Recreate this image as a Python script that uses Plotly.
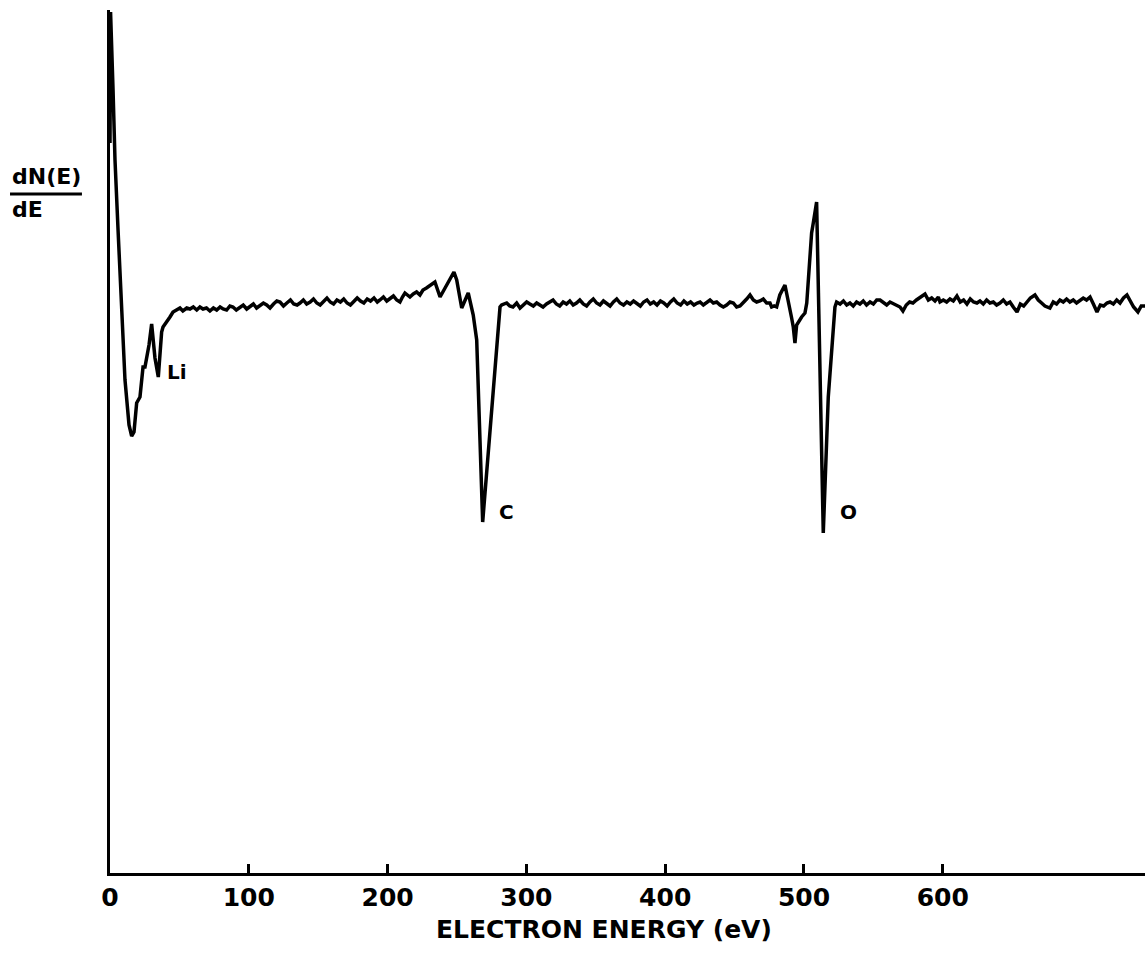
import plotly.graph_objects as go

# Electron energy (eV) and dN(E)/dE (arbitrary units, axis = 0)
energy = [
    0.0, 0.4, 2.2, 3.6, 5.8, 7.9, 10.8, 13.7, 15.6, 17.3, 19.2, 21.6, 23.8, 25.2, 28.1, 30.0,
    32.4, 34.8, 37.2, 38.2, 40.9, 43.2,
    45.4, 47.5, 50.4, 52.5, 55.3, 57.6, 60.0, 62.5, 64.8, 67.0, 69.5, 72.0, 74.5, 76.9, 79.3,
    81.5, 84.0, 86.4, 88.6, 91.0, 93.5, 96.0, 98.5, 100.9, 103.3, 105.6, 108.0, 110.5, 112.9,
    115.3, 117.8, 120.2, 122.5, 125.0, 127.4, 130.0, 132.4, 134.8, 136.9, 139.3, 141.7, 144.2,
    146.6, 149.0, 151.4, 153.8, 156.3, 158.7, 161.1, 163.5, 166.0, 168.4, 170.8, 173.2, 175.6,
    178.1, 180.5, 182.9, 185.3, 187.7, 190.2, 192.6, 194.5, 197.0, 199.4, 201.8, 204.2, 206.6,
    208.9, 210.7, 212.5, 214.3, 216.1, 218.5, 220.9, 223.3, 225.5, 228.0, 230.6, 234.1, 237.8,
    247.8, 249.8, 253.4, 258.1, 261.7, 264.2, 268.5, 281.0, 282.2,
    285.8, 288.0, 290.3, 293.0, 295.4, 297.8, 300.2, 302.5, 305.0, 307.4, 309.7, 312.0, 314.5,
    316.9, 319.2, 321.6, 324.0, 326.5, 328.9, 331.3, 333.7, 336.1, 338.5, 341.0, 343.4, 345.8,
    348.2, 350.6, 353.0, 355.5, 357.9, 360.3, 362.7, 365.1, 367.5, 370.0, 372.4, 374.8, 377.2,
    379.6, 382.1, 384.5, 386.9, 389.3, 391.7, 394.1, 396.6, 399.0, 401.4, 403.8, 406.2, 408.6,
    411.1, 413.5, 415.9, 418.3, 420.7, 423.1, 425.1, 427.5, 429.9, 432.3, 434.7, 437.1, 439.5,
    441.9, 444.3, 446.7, 449.1, 451.5, 453.9, 456.3, 458.7, 461.1, 463.5, 465.9, 468.3, 470.7,
    473.1, 475.5, 476.7, 478.5, 480.3, 482.6, 486.3, 491.1, 492.3, 493.5, 494.7, 498.3, 500.7,
    502.0, 503.1, 504.3, 505.5, 506.7, 509.1, 513.9, 515.9, 517.5, 522.3, 523.5,
    526.0, 528.4, 530.8, 533.1, 535.5, 537.9, 540.3, 542.7, 545.1, 547.6, 550.0, 552.4, 554.8,
    557.2, 559.6, 562.0, 564.4, 566.8, 569.2, 571.3, 573.7, 576.1, 578.5, 581.0, 583.4, 585.8,
    587.2, 589.6, 592.0, 594.4, 596.8, 598.0, 600.4, 602.8, 605.2, 607.6, 610.2, 612.6, 615.0,
    617.4, 619.8, 622.2, 624.6, 626.8, 629.2, 631.6, 634.0, 636.4, 638.8, 641.2, 643.6, 646.0,
    648.4, 650.8, 653.5, 655.9, 658.3, 660.7, 663.1, 666.4, 668.8, 671.2, 673.6, 677.2, 679.6,
    682.0, 684.4, 686.8, 689.2, 691.6, 694.0, 696.4, 698.8, 701.2, 703.6, 706.1, 708.5, 711.1,
    713.5, 715.9, 718.3, 720.5, 722.9, 725.3, 727.7, 730.2, 732.7, 735.1, 737.5, 740.6, 743.0,
    745.7,
]
signal = [
    730, 861, 783, 713, 643, 573, 493, 448, 437, 441, 470, 476, 506, 506, 528, 549,
    515, 496, 541, 546, 551, 556,
    561, 563, 565, 562, 565, 564, 566, 563, 566, 564, 565, 562, 565, 563, 566,
    564, 563, 567, 566, 563, 565, 568, 564, 566, 569, 565, 567, 570, 568,
    565, 569, 572, 571, 567, 570, 573, 569, 568, 570, 573, 569, 571,
    574, 570, 568, 572, 575, 571, 569, 573, 571, 574, 570, 568, 572,
    575, 572, 570, 574, 572, 575, 571, 573, 576, 572, 574, 577, 573,
    571, 576, 580, 578, 576, 579, 581, 578, 583, 585, 588, 591, 576,
    601, 593, 565, 580, 558, 533, 351, 566, 568,
    570, 567, 566, 570, 565, 568, 571, 569, 567, 570, 568, 566, 569,
    571, 573, 569, 567, 571, 569, 572, 568, 570, 573, 569, 567, 571,
    574, 570, 568, 572, 570, 567, 571, 574, 570, 568, 571, 569, 572,
    570, 567, 571, 573, 569, 571, 568, 572, 570, 567, 571, 574, 570,
    568, 572, 569, 571, 568, 570, 571, 568, 570, 573, 570, 571, 568,
    566, 568, 571, 570, 566, 567, 570, 574, 578, 573, 571, 572, 574,
    570, 570, 566, 567, 566, 578, 588, 555, 546, 530, 548, 556, 560,
    570, 593, 616, 640, 650, 671, 340, 426, 476, 566, 571,
    569, 572, 568, 570, 567, 571, 569, 572, 568, 571, 569, 573, 573,
    570, 568, 571, 569, 567, 566, 562, 568, 571, 570, 573, 575, 577,
    579, 573, 575, 572, 576, 571, 573, 571, 574, 572, 577, 571, 573,
    569, 574, 571, 570, 572, 569, 573, 570, 571, 568, 570, 573, 569,
    571, 566, 561, 569, 567, 571, 575, 578, 573, 570, 567, 565, 571,
    569, 573, 571, 574, 571, 573, 570, 572, 575, 573, 576, 569, 561,
    568, 567, 570, 571, 569, 573, 570, 575, 578, 572, 566, 561, 567,
    567,
]

tick_vals = [0, 100, 200, 300, 400, 500, 600]
tick_text = ["0", "100", "200", "300", "400", "500", "600"]

peak_labels = ["Li", "C", "O"]
peak_label_x = [39.6, 278.8, 524.5]
peak_label_y = [501, 361, 361]

FONT = "DejaVu Sans"

fig = go.Figure()
fig.add_trace(go.Scatter(
    x=energy, y=signal, mode="lines",
    line=dict(color="black", width=3.5),
    hoverinfo="skip", showlegend=False, cliponaxis=False,
))

for txt, lx, ly in zip(peak_labels, peak_label_x, peak_label_y):
    fig.add_annotation(x=lx, y=ly, text="<b>%s</b>" % txt, showarrow=False, xanchor="left",
                       yanchor="middle", font=dict(family=FONT, size=20, color="black"))

fig.add_annotation(xref="paper", yref="paper", x=0.4773, y=-0.0649,
                   text="<b>ELECTRON ENERGY (eV)</b>", showarrow=False,
                   xanchor="center", yanchor="middle",
                   font=dict(family=FONT, size=25, color="black"))
fig.add_annotation(xref="paper", yref="paper", x=-0.0966, y=0.8065,
                   text="<b>dN(E)</b>", showarrow=False, xanchor="left", yanchor="middle",
                   font=dict(family=FONT, size=22, color="black"))
fig.add_annotation(xref="paper", yref="paper", x=-0.0966, y=0.7683,
                   text="<b>dE</b>", showarrow=False, xanchor="left", yanchor="middle",
                   font=dict(family=FONT, size=22, color="black"))
fig.add_shape(type="line", xref="paper", yref="paper",
              x0=-0.0966, x1=-0.0271, y0=0.7868, y1=0.7868,
              line=dict(color="black", width=3))

fig.update_xaxes(
    range=[0, 745.7], showline=True, linecolor="black", linewidth=3,
    showgrid=False, zeroline=False, ticks="inside", ticklen=9, tickwidth=2.5,
    tickcolor="black", tickvals=tick_vals, ticktext=tick_text,
    tickfont=dict(family=FONT, size=25, color="black", weight="bold"),
)
fig.update_yaxes(
    range=[0, 863], showline=True, linecolor="black", linewidth=3,
    showgrid=False, zeroline=False, showticklabels=False, ticks="",
)
fig.update_layout(
    width=1145, height=955,
    margin=dict(l=110, r=0, t=10, b=82),
    plot_bgcolor="white", paper_bgcolor="white",
    showlegend=False,
)

fig.write_html("out.html")
